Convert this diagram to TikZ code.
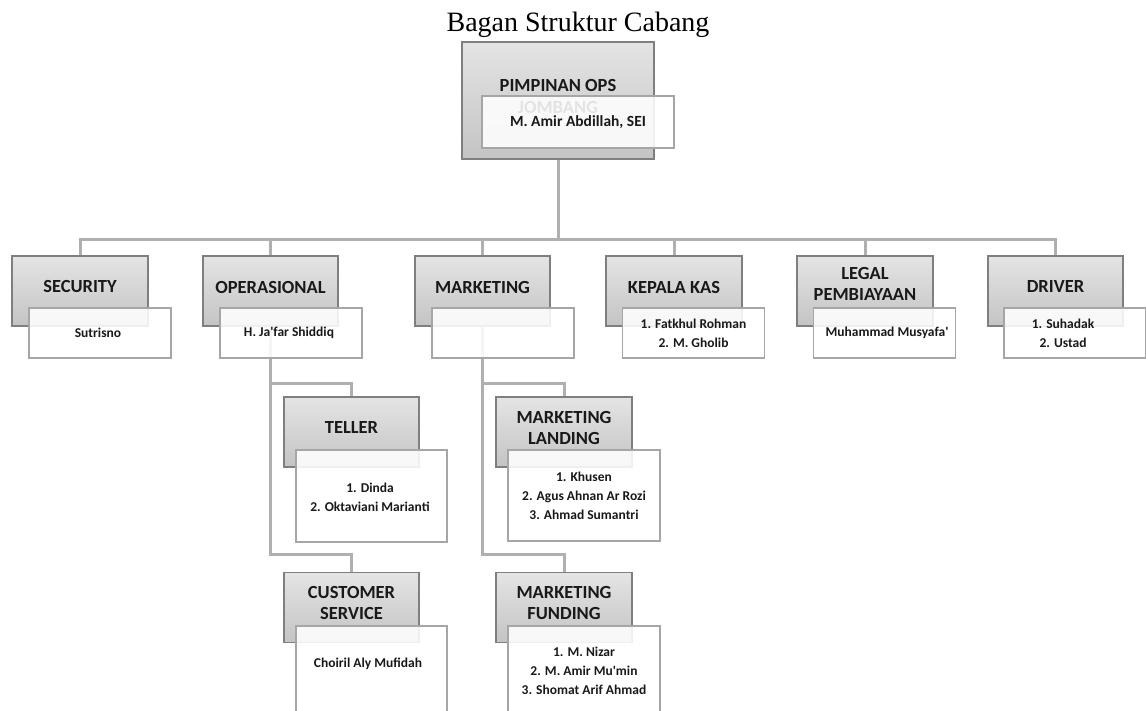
\documentclass[tikz,border=0pt]{standalone}
\usepackage{fontspec}
\newfontfamily\carl{Carlito}
\newfontfamily\tnr{Liberation Serif}
\usetikzlibrary{calc}
\definecolor{gborder}{HTML}{7F7F7F}
\definecolor{gtop}{HTML}{E4E4E4}
\definecolor{gbot}{HTML}{C4C4C4}
\definecolor{wborder}{HTML}{A6A6A6}
\definecolor{connc}{HTML}{B0B0B0}
\tikzset{
  gbox/.style={rectangle, draw=gborder, line width=1.3pt, top color=gtop, bottom color=gbot, inner sep=0pt, minimum width=135pt, minimum height=70pt},
  wbox/.style={rectangle, draw=wborder, line width=1.1pt, fill=white, fill opacity=0.88, inner sep=0pt, minimum width=142pt, minimum height=50pt},
  ttl/.style={font=\carl\bfseries\fontsize{18.5}{21}\selectfont, align=center, inner sep=0pt, text=black!90},
  nm/.style={font=\carl\bfseries\fontsize{13.5}{19}\selectfont, align=center, inner sep=0pt, text=black!90},
  conn/.style={draw=connc, line width=3pt}
}
\begin{document}
\begin{tikzpicture}[x=1pt, y=-1pt]
\useasboundingbox (0,0) rectangle (1146,711);
\clip (0,0) rectangle (1146,711);
\node[font=\tnr\fontsize{28}{30}\selectfont, anchor=base, inner sep=0pt] (title) at (578,32) {Bagan Struktur Cabang};

% box skeletons (positions)
\node[gbox, minimum width=192pt, minimum height=117pt] (top) at (558,100.5) {};
\node[gbox, minimum width=136pt] (sec) at (80,291) {};
\node[gbox] (ops) at (270.5,291) {};
\node[gbox] (mkt) at (482.5,291) {};
\node[gbox, minimum width=136pt] (kas) at (674,291) {};
\node[gbox, minimum width=136pt] (leg) at (865,291) {};
\node[gbox] (drv) at (1055.5,291) {};
\node[gbox] (tel) at (351.5,432) {};
\node[gbox] (cs) at (351.5,607.5) {};
\node[gbox, minimum width=136pt] (mld) at (564,432) {};
\node[gbox, minimum width=136pt] (mfd) at (564,607.5) {};

% connectors (behind boxes)
\coordinate (bus) at (0,240);
\coordinate (tb) at (0,383);
\coordinate (cb) at (0,554);
\draw[conn] (top.south) -- (top.south |- bus);
\draw[conn] (sec.north) -- (sec.north |- bus) -- (drv.north |- bus) -- (drv.north);
\draw[conn] (ops.north) -- (ops.north |- bus);
\draw[conn] (mkt.north) -- (mkt.north |- bus);
\draw[conn] (kas.north) -- (kas.north |- bus);
\draw[conn] (leg.north) -- (leg.north |- bus);
\draw[conn] (ops.south) -- (ops.south |- cb) -- (cs.north |- cb) -- (cs.north);
\draw[conn] (ops.south |- tb) -- (tel.north |- tb) -- (tel.north);
\draw[conn] (mkt.south) -- (mkt.south |- cb) -- (mfd.north |- cb) -- (mfd.north);
\draw[conn] (mkt.south |- tb) -- (mld.north |- tb) -- (mld.north);

% redraw gray boxes on top of connectors
\node[gbox, minimum width=192pt, minimum height=117pt] at (top) {};
\node[gbox, minimum width=136pt] at (sec) {};
\node[gbox] at (ops) {};
\node[gbox] at (mkt) {};
\node[gbox, minimum width=136pt] at (kas) {};
\node[gbox, minimum width=136pt] at (leg) {};
\node[gbox] at (drv) {};
\node[gbox] at (tel) {};
\node[gbox] at (cs) {};
\node[gbox, minimum width=136pt] at (mld) {};
\node[gbox, minimum width=136pt] at (mfd) {};

% titles
\node[ttl] (topT) at (558,96.5) {PIMPINAN OPS\\JOMBANG};
\node[ttl] (secT) at (80,287) {SECURITY};
\node[ttl] (opsT) at (270.5,287) {OPERASIONAL};
\node[ttl] (mktT) at (482.5,287) {MARKETING};
\node[ttl] (kasT) at (674,287) {KEPALA KAS};
\node[ttl] (legT) at (865,283.5) {LEGAL\\PEMBIAYAAN};
\node[ttl] (drvT) at (1055.5,287) {DRIVER};
\node[ttl] (telT) at (351.5,428) {TELLER};
\node[ttl] (csT) at (351.5,602.5) {CUSTOMER\\SERVICE};
\node[ttl] (mldT) at (564,427.5) {MARKETING\\LANDING};
\node[ttl] (mfdT) at (564,602.5) {MARKETING\\FUNDING};

% white name boxes
\node[wbox, minimum width=192pt, minimum height=52pt] (topW) at (578,122) {};
\node[wbox] (secW) at (100,333) {};
\node[wbox] (opsW) at (291,333) {};
\node[wbox] (mktW) at (503,333) {};
\node[wbox] (kasW) at (693.5,333) {};
\node[wbox] (legW) at (884.5,333) {};
\node[wbox] (drvW) at (1075,333) {};
\node[wbox, minimum width=151pt, minimum height=92pt] (telW) at (371.5,496) {};
\node[wbox, minimum width=151pt, minimum height=92pt] (csW) at (371.5,672) {};
\node[wbox, minimum width=152pt, minimum height=91pt] (mldW) at (584,495.5) {};
\node[wbox, minimum width=152pt, minimum height=92pt] (mfdW) at (584,672) {};

% names
\node[nm, font=\carl\bfseries\fontsize{15.5}{19}\selectfont] (topN) at (578,122) {M. Amir Abdillah, SEI};
\node[nm] (secN) at (98,333) {Sutrisno};
\node[nm] (opsN) at (289,333) {H. Ja'far Shiddiq};
\node[nm] (kasN) at (693.5,333.5) {1. Fatkhul Rohman\\2. M. Gholib};
\node[nm] (legN) at (887,333) {Muhammad Musyafa'};
\node[nm] (drvN) at (1063,333.5) {1. Suhadak\\2. Ustad};
\node[nm] (telN) at (370,497.5) {1. Dinda\\2. Oktaviani Marianti};
\node[nm] (csN) at (368,664) {Choiril Aly Mufidah};
\node[nm] (mldN) at (584,496) {1. Khusen\\2. Agus Ahnan Ar Rozi\\3. Ahmad Sumantri};
\node[nm] (mfdN) at (584,671) {1. M. Nizar\\2. M. Amir Mu'min\\3. Shomat Arif Ahmad};
\end{tikzpicture}
\end{document}
